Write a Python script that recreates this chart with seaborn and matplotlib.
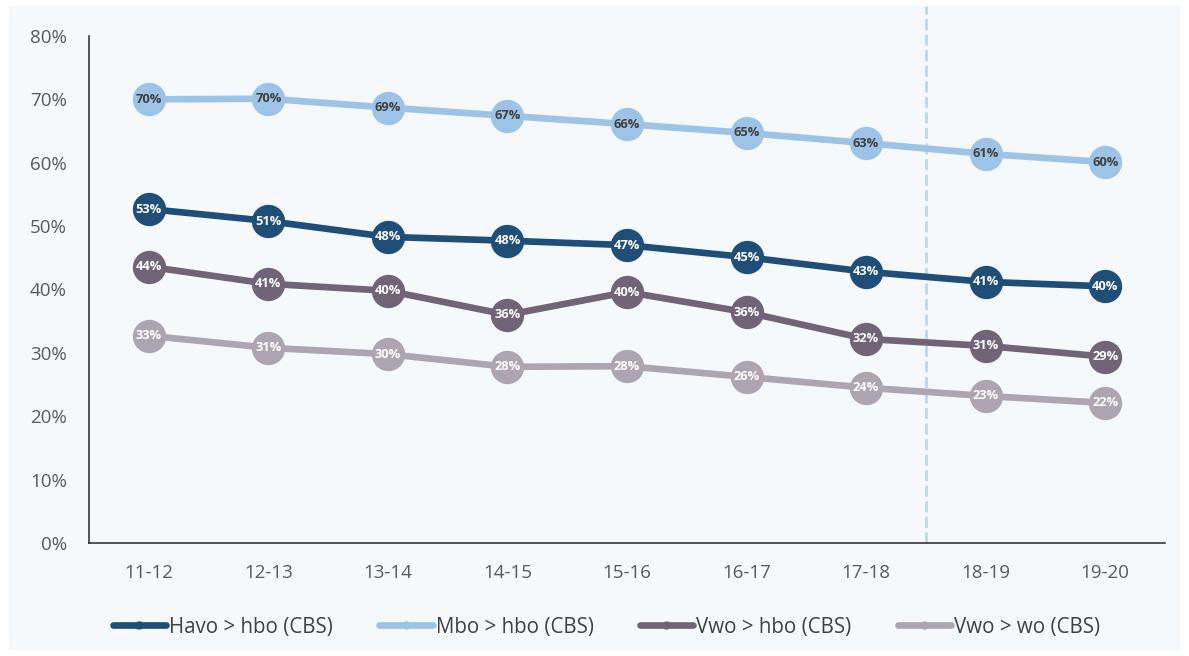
import numpy as np
import pandas as pd
import seaborn as sns
import matplotlib
matplotlib.use("Agg")
import matplotlib.pyplot as plt
from matplotlib.lines import Line2D
from matplotlib.patches import Rectangle

# ---- data ----
years = ["11-12", "12-13", "13-14", "14-15", "15-16", "16-17", "17-18", "18-19", "19-20"]
series_names = ["Havo > hbo (CBS)", "Mbo > hbo (CBS)", "Vwo > hbo (CBS)", "Vwo > wo (CBS)"]
havo_hbo = [0.527, 0.508, 0.483, 0.477, 0.470, 0.451, 0.428, 0.412, 0.405]
mbo_hbo = [0.700, 0.701, 0.687, 0.674, 0.661, 0.647, 0.631, 0.614, 0.601]
vwo_hbo = [0.436, 0.409, 0.398, 0.360, 0.396, 0.364, 0.322, 0.311, 0.294]
vwo_wo = [0.327, 0.308, 0.298, 0.278, 0.279, 0.262, 0.245, 0.232, 0.221]
y_ticks = [0.0, 0.1, 0.2, 0.3, 0.4, 0.5, 0.6, 0.7, 0.8]
split_pos = 6.5

colors = ["#1f4e79", "#9dc3e6", "#716476", "#aea5b2"]
label_colors = ["white", "#404040", "white", "white"]

sns.set_theme(style="white")
plt.rcParams["font.family"] = ["Open Sans", "DejaVu Sans"]

rows = []
for name, vals in zip(series_names, [havo_hbo, mbo_hbo, vwo_hbo, vwo_wo]):
    for i, v in enumerate(vals):
        rows.append({"idx": i, "year": years[i], "value": v, "series": name})
df = pd.DataFrame(rows)

fig = plt.figure(figsize=(11.89, 6.56), dpi=100)
fig.patch.set_facecolor("white")
fig.patches.append(Rectangle((9 / 1189, 6 / 656), (1180 - 9) / 1189, (650 - 6) / 656,
                             transform=fig.transFigure, facecolor="#f5f9fc",
                             edgecolor="none", zorder=-10))
ax = fig.add_axes([89 / 1189, 113 / 656, (1165 - 89) / 1189, (543 - 36) / 656])
ax.set_facecolor("none")

ax.vlines(split_pos, 0, 0.8 + 30 / 633.75, color="#bdd7ee", lw=2.0,
          linestyles=(0, (4, 1.6)), zorder=1, clip_on=False)

sns.lineplot(data=df, x="idx", y="value", hue="series", hue_order=series_names,
             palette=colors, marker="o", markersize=24, markeredgewidth=0,
             linewidth=4.8, sort=False, legend=False, ax=ax, zorder=3)

for name, c in zip(series_names, label_colors):
    sub = df[df["series"] == name]
    for _, r in sub.iterrows():
        ax.text(r["idx"], r["value"], f"{round(r['value'] * 100):.0f}%",
                ha="center", va="center", fontsize=9.3, fontweight="bold",
                color=c, zorder=5)

ax.set_xlim(-0.5, 8.5)
ax.set_ylim(0, 0.8)
ax.set_xticks(range(len(years)))
ax.set_xticklabels(years)
ax.set_yticks(y_ticks)
ax.set_yticklabels([f"{int(round(t * 100))}%" for t in y_ticks])
ax.set_xlabel("")
ax.set_ylabel("")
ax.tick_params(axis="both", length=0, labelsize=13.5, labelcolor="#595959")
ax.tick_params(axis="x", pad=15)
ax.tick_params(axis="y", pad=16)
for s in ["top", "right"]:
    ax.spines[s].set_visible(False)
for s in ["left", "bottom"]:
    ax.spines[s].set_color("#262626")
    ax.spines[s].set_linewidth(1.1)
ax.grid(False)

handles = [Line2D([0], [0], color=c, lw=4.8, marker="o", markersize=6,
                  markeredgewidth=0, solid_capstyle="round") for c in colors]
leg = fig.legend(handles, series_names, loc="center", bbox_to_anchor=(0.51, 1 - 627 / 656),
                 ncol=4, frameon=False, fontsize=14.8, handlelength=2.6,
                 handletextpad=0.15, columnspacing=2.25)
for t in leg.get_texts():
    t.set_color("#404040")

fig.savefig("out.png", dpi=100, facecolor=fig.get_facecolor())
